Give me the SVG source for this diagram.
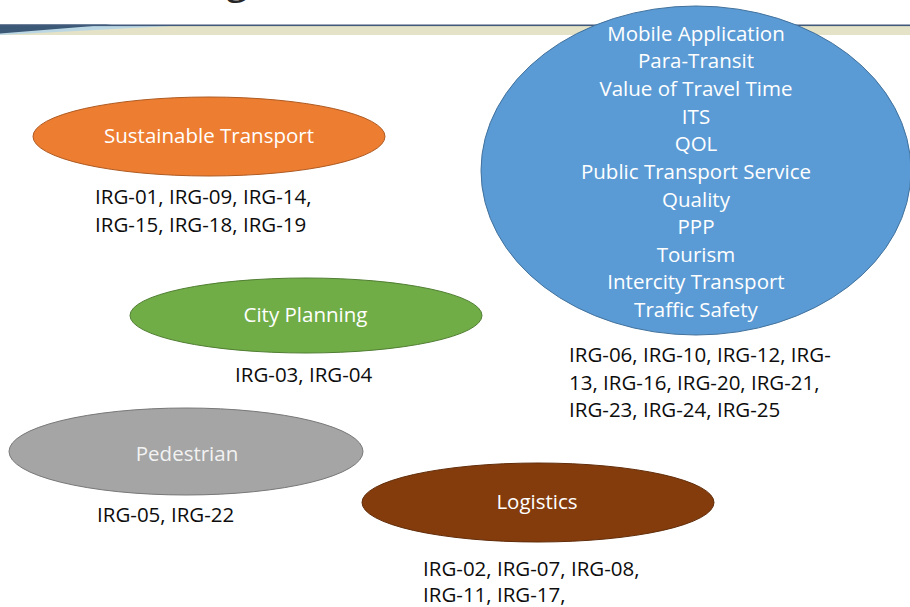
<svg xmlns="http://www.w3.org/2000/svg" width="910" height="607" viewBox="0 0 910 607">
<style>
.lbl{font-family:"Open Sans","Noto Sans","Liberation Sans",sans-serif;font-size:20.5px;fill:#ffffff;text-anchor:middle}
.ids{font-family:"Open Sans","Noto Sans","Liberation Sans",sans-serif;font-size:20.5px;fill:#0d0d0d}
.el{stroke-width:1}
</style>
<rect width="910" height="607" fill="#ffffff"/>
<g id="header">
<rect x="0" y="25" width="910" height="10" fill="#E4E2C7"/>
<polygon points="0,25 190,25 0,35" fill="#BCD7E4"/>
<polygon points="0,24.5 112,24.5 0,33.4" fill="#3B5876"/>
<rect x="0" y="24.5" width="910" height="1.6" fill="#41597A"/>
<text x="226" y="-7" style="font-family:'Open Sans','Liberation Sans',sans-serif;font-size:40px;fill:#262626">g</text>
</g>
<g id="node-sustainable">
<ellipse class="el" cx="209" cy="136.5" rx="176" ry="39.5" fill="#ED7D31" stroke="#AE5A21"/>
<text class="lbl" x="209" y="142.5">Sustainable Transport</text>
<text class="ids" x="95" y="204">IRG-01, IRG-09, IRG-14,</text>
<text class="ids" x="95" y="231.5">IRG-15, IRG-18, IRG-19</text>
</g>
<g id="node-city">
<ellipse class="el" cx="306" cy="315.5" rx="176" ry="37.5" fill="#70AD47" stroke="#507E32"/>
<text class="lbl" x="305.5" y="322">City Planning</text>
<text class="ids" x="235" y="382">IRG-03, IRG-04</text>
</g>
<g id="node-pedestrian">
<ellipse class="el" cx="186" cy="451.5" rx="177" ry="43.5" fill="#A5A5A5" stroke="#787878"/>
<text class="lbl" x="187" y="461" style="fill:#f2f2f2">Pedestrian</text>
<text class="ids" x="97" y="522">IRG-05, IRG-22</text>
</g>
<g id="node-logistics">
<ellipse class="el" cx="538" cy="502.5" rx="176" ry="39.5" fill="#843C0C" stroke="#612C09"/>
<text class="lbl" x="537" y="509">Logistics</text>
<text class="ids" x="423" y="575.5">IRG-02, IRG-07, IRG-08,</text>
<text class="ids" x="423" y="602">IRG-11, IRG-17,</text>
</g>
<g id="node-other">
<ellipse class="el" cx="696" cy="170.5" rx="215" ry="164.5" fill="#5B9BD5" stroke="#41719C"/>
<text class="lbl" x="696" y="40.7">Mobile Application</text>
<text class="lbl" x="696" y="68.3">Para-Transit</text>
<text class="lbl" x="696" y="96">Value of Travel Time</text>
<text class="lbl" x="696" y="123.6">ITS</text>
<text class="lbl" x="696" y="151.2">QOL</text>
<text class="lbl" x="696" y="178.8">Public Transport Service</text>
<text class="lbl" x="696" y="206.5">Quality</text>
<text class="lbl" x="696" y="234.1">PPP</text>
<text class="lbl" x="696" y="261.7">Tourism</text>
<text class="lbl" x="696" y="289.4">Intercity Transport</text>
<text class="lbl" x="696" y="317">Traffic Safety</text>
<text class="ids" x="569" y="362">IRG-06, IRG-10, IRG-12, IRG-</text>
<text class="ids" x="569" y="389.5">13, IRG-16, IRG-20, IRG-21,</text>
<text class="ids" x="569" y="417">IRG-23, IRG-24, IRG-25</text>
</g>
<g id="connectors"></g>
</svg>
